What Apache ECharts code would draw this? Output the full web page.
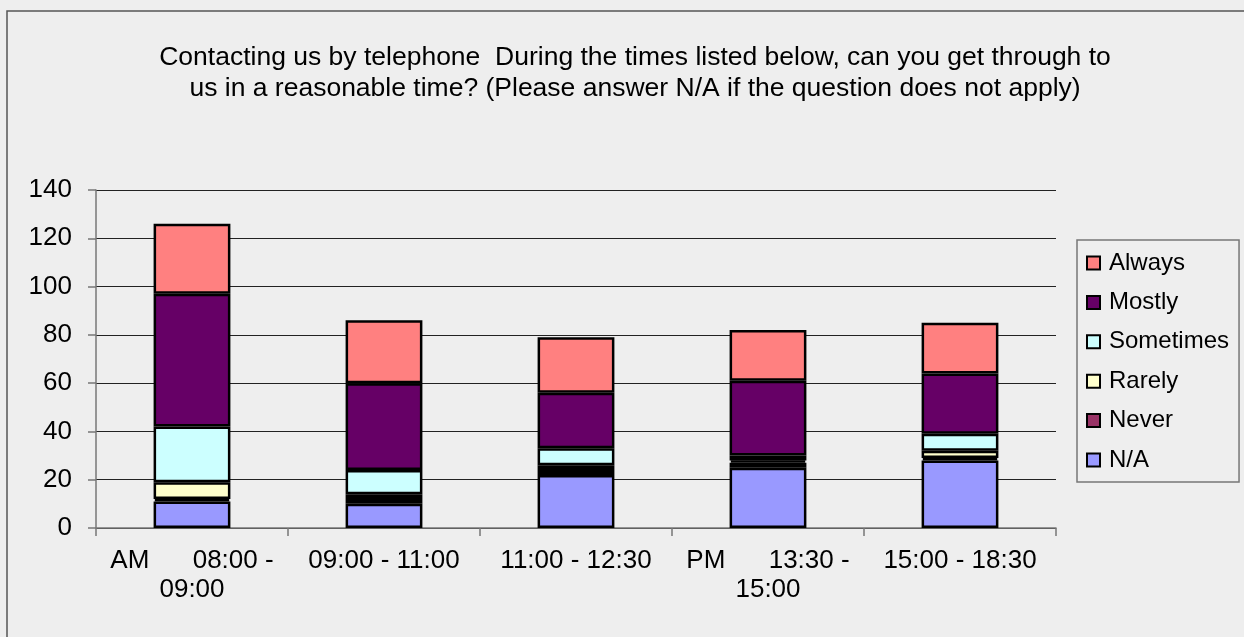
<!DOCTYPE html>
<html><head><meta charset="utf-8">
<script src="https://cdn.jsdelivr.net/npm/echarts@6/dist/echarts.min.js"></script>
<style>html,body{margin:0;padding:0;background:#eeeeee;}#c{width:1244px;height:637px;}</style>
</head><body><div id="c"></div>
<script>
const titleText = "Contacting us by telephone  During the times listed below, can you get through to\nus in a reasonable time? (Please answer N/A if the question does not apply)";
const categories = ["AM      08:00 -\n09:00", "09:00 - 11:00", "11:00 - 12:30", "PM      13:30 -\n15:00", "15:00 - 18:30"];
const seriesNames = ["N/A", "Never", "Rarely", "Sometimes", "Mostly", "Always"];
const naVals = [11, 10, 22, 25, 28];
const neverVals = [1, 2, 2, 2, 1];
const rarelyVals = [7, 2, 2, 1, 3];
const sometimesVals = [23, 10, 7, 2, 7];
const mostlyVals = [55, 36, 23, 31, 25];
const alwaysVals = [29, 26, 23, 21, 21];
const yTicks = [0, 20, 40, 60, 80, 100, 120, 140];
const colors = {"N/A": "#9999FF", "Never": "#993366", "Rarely": "#FFFFCC", "Sometimes": "#CCFFFF", "Mostly": "#660066", "Always": "#FF8080"};
const valuesByName = {"N/A": naVals, "Never": neverVals, "Rarely": rarelyVals, "Sometimes": sometimesVals, "Mostly": mostlyVals, "Always": alwaysVals};

const chart = echarts.init(document.getElementById('c'));
const FONT = "Liberation Sans, Arial, sans-serif";
chart.setOption({
  backgroundColor: '#eeeeee',
  animation: false,
  title: {
    text: titleText, left: 630, top: 37, textAlign: 'center',
    textStyle: {fontFamily: FONT, fontSize: 26.5, fontWeight: 'normal', color: '#000', lineHeight: 31}
  },
  graphic: [{
    type: 'rect', shape: {x: 7, y: 11, width: 1300, height: 700},
    style: {fill: 'none', stroke: '#555', lineWidth: 1.5}, silent: true
  }],
  legend: {
    orient: 'vertical', left: 1077, top: 240, width: 163,
    data: seriesNames.slice().reverse(),
    backgroundColor: '#eeeeee', borderColor: '#777', borderWidth: 1.5,
    padding: [11, 10, 10, 9], itemGap: 15.4, itemWidth: 13, itemHeight: 13,
    textStyle: {fontFamily: FONT, fontSize: 24, lineHeight: 24, color: '#000', padding: [0, 0, 0, 4]},
    icon: 'rect'
  },
  grid: {left: 96, right: 188, top: 190, bottom: 109, containLabel: false},
  xAxis: {
    type: 'category', data: categories,
    axisLine: {lineStyle: {color: '#777', width: 1.5}},
    axisTick: {show: true, length: 8, lineStyle: {color: '#777', width: 1.5}},
    axisLabel: {fontFamily: FONT, fontSize: 26, color: '#000', margin: 18, lineHeight: 29, interval: 0}
  },
  yAxis: {
    type: 'value', min: 0, max: 140, interval: 20,
    axisLine: {show: true, lineStyle: {color: '#777', width: 1.5}},
    axisTick: {show: true, length: 8, lineStyle: {color: '#777', width: 1.5}},
    axisLabel: {fontFamily: FONT, fontSize: 26, color: '#000', margin: 24,
      formatter: v => yTicks.includes(v) ? String(v) : ''},
    splitLine: {show: true, lineStyle: {color: '#222', width: 1}}
  },
  series: seriesNames.map(n => ({
    name: n, type: 'bar', stack: 'total', barWidth: '40%',
    data: valuesByName[n],
    itemStyle: {color: colors[n], borderColor: '#000', borderWidth: 2.5}
  }))
});
</script></body></html>
